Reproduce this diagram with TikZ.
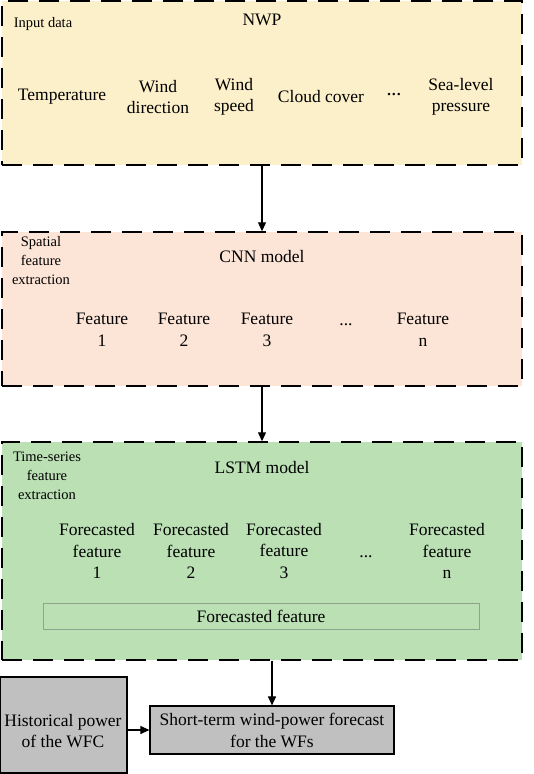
\documentclass[tikz,border=0pt]{standalone}
\usepackage{fontspec}
\setmainfont{Liberation Serif}
\usetikzlibrary{arrows.meta}
\definecolor{nwpyellow}{RGB}{252,240,202}
\definecolor{cnnpeach}{RGB}{252,228,214}
\definecolor{lstmgreen}{RGB}{186,224,180}
\definecolor{innerline}{RGB}{140,165,140}
\definecolor{outgray}{RGB}{192,192,192}

\begin{document}
\begin{tikzpicture}[x=1pt,y=-1pt,
    panel/.style={draw,dash pattern=on 20pt off 11pt,line width=1.4pt,inner sep=0pt},
    txt/.style={align=center,font=\fontsize{17.5}{21.5}\selectfont,inner sep=0pt},
    tag/.style={align=center,font=\fontsize{14.5}{19}\selectfont,inner sep=0pt},
    outbox/.style={draw,line width=1.2pt,fill=outgray,align=center,
        font=\fontsize{17.5}{22}\selectfont,inner sep=0pt},
    arr/.style={-{Triangle[length=9pt,width=8pt]},line width=1.1pt}]
    \useasboundingbox (0,0) rectangle (533,774);

    % input data
    \node[panel,fill=nwpyellow,minimum width=520pt,minimum height=164pt] (nwp) at (262,83) {};
    \node[tag] (intag) at (43,24) {Input data};
    \node[txt] (nwptitle) at (262,20) {NWP};
    \node[txt] (temp) at (62,97) {Temperature};
    \node[txt] (wdir) at (158,97) {Wind\\direction};
    \node[txt] (wspd) at (234,97) {Wind\\speed};
    \node[txt] (cloud) at (321,97) {Cloud cover};
    \node[txt,font=\fontsize{15}{18}\bfseries] (indots) at (394,96) {···};
    \node[txt] (slp) at (461,97) {Sea-level\\pressure};

    % spatial features
    \node[panel,fill=cnnpeach,minimum width=520pt,minimum height=154pt] (cnn) at (262,309) {};
    \node[tag] (cnntag) at (41,261) {Spatial\\feature\\extraction};
    \node[txt] (cnntitle) at (262,257) {CNN model};
    \node[txt] (f1) at (102,330) {Feature\\1};
    \node[txt] (f2) at (184,330) {Feature\\2};
    \node[txt] (f3) at (267,330) {Feature\\3};
    \node[txt,anchor=base] (fdots) at (346,325) {...};
    \node[txt] (fn) at (423,330) {Feature\\n};

    % time-series features
    \node[panel,fill=lstmgreen,minimum width=520pt,minimum height=218pt] (lstm) at (262,551) {};
    \node[tag] (lstmtag) at (47,476) {Time-series\\feature\\extraction};
    \node[txt] (lstmtitle) at (262,468) {LSTM model};
    \node[txt] (ff1) at (97,551) {Forecasted\\feature\\1};
    \node[txt] (ff2) at (191,551) {Forecasted\\feature\\2};
    \node[txt] (ff3) at (284,551) {Forecasted\\feature\\3};
    \node[txt,anchor=base] (ffdots) at (366,557) {...};
    \node[txt] (ffn) at (447,551) {Forecasted\\feature\\n};
    \node[txt,draw=innerline,line width=0.8pt,minimum width=436pt,minimum height=26pt] (ffall) at (261,616) {Forecasted feature};

    % output
    \node[outbox,minimum width=127pt,minimum height=96pt] (hist) at (63.5,725) {};
    \node[txt] (histtext) at (63,731) {Historical power\\of the WFC};
    \node[outbox,minimum width=244pt,minimum height=48pt] (fc) at (272,730) {Short-term wind-power forecast\\for the WFs};

    \draw[arr] (nwp) -- (cnn);
    \draw[arr] (cnn) -- (lstm);
    \draw[arr] (lstm.south -| fc.north) -- (fc.north);
    \draw[arr] (fc.west -| hist.east) -- (fc.west);
\end{tikzpicture}
\end{document}
